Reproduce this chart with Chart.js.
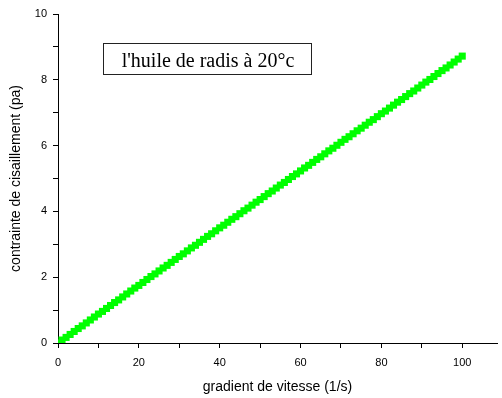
<!DOCTYPE html>
<html>
<head>
<meta charset="utf-8">
<script src="https://cdn.jsdelivr.net/npm/chart.js@4.4.1/dist/chart.umd.min.js"></script>
<style>
  html, body { margin: 0; padding: 0; background: #fff; }
  #wrap { width: 502px; height: 398px; }
</style>
</head>
<body>
<div id="wrap"><canvas id="chart" width="502" height="398"></canvas></div>
<script>
// gradient de vitesse (1/s)
const shearRate = [
  0, 1, 2, 3, 4, 5, 6, 7, 8, 9,
  10, 11, 12, 13, 14, 15, 16, 17, 18, 19,
  20, 21, 22, 23, 24, 25, 26, 27, 28, 29,
  30, 31, 32, 33, 34, 35, 36, 37, 38, 39,
  40, 41, 42, 43, 44, 45, 46, 47, 48, 49,
  50, 51, 52, 53, 54, 55, 56, 57, 58, 59,
  60, 61, 62, 63, 64, 65, 66, 67, 68, 69,
  70, 71, 72, 73, 74, 75, 76, 77, 78, 79,
  80, 81, 82, 83, 84, 85, 86, 87, 88, 89,
  90, 91, 92, 93, 94, 95, 96, 97, 98, 99,
  100
];
// contrainte de cisaillement (pa)
const shearStress = [
  0.00, 0.09, 0.17, 0.26, 0.35, 0.44, 0.52, 0.61, 0.70, 0.79,
  0.88, 0.96, 1.05, 1.14, 1.23, 1.31, 1.40, 1.49, 1.58, 1.67,
  1.75, 1.84, 1.93, 2.02, 2.10, 2.19, 2.28, 2.36, 2.45, 2.54,
  2.63, 2.71, 2.80, 2.89, 2.97, 3.06, 3.15, 3.24, 3.32, 3.41,
  3.50, 3.58, 3.67, 3.76, 3.84, 3.93, 4.02, 4.10, 4.19, 4.28,
  4.36, 4.45, 4.54, 4.62, 4.71, 4.80, 4.88, 4.97, 5.06, 5.14,
  5.23, 5.32, 5.40, 5.49, 5.58, 5.66, 5.75, 5.84, 5.92, 6.01,
  6.10, 6.19, 6.27, 6.36, 6.45, 6.53, 6.62, 6.71, 6.79, 6.88,
  6.97, 7.05, 7.14, 7.23, 7.32, 7.40, 7.49, 7.58, 7.66, 7.75,
  7.84, 7.93, 8.01, 8.10, 8.19, 8.28, 8.36, 8.45, 8.54, 8.63,
  8.72
];
const xLabels = [0, 20, 40, 60, 80, 100];
const yLabels = [0, 2, 4, 6, 8, 10];
const boxText = "l'huile de radis à 20°c";

const points = shearRate.map((x, i) => ({ x: x, y: shearStress[i] }));

// text box in the upper left of the plot
const labelBox = {
  id: 'labelBox',
  afterDraw(chart) {
    const ctx = chart.ctx;
    ctx.save();
    ctx.strokeStyle = '#222';
    ctx.lineWidth = 1;
    ctx.strokeRect(103.5, 43.5, 208, 31);
    ctx.fillStyle = '#000';
    ctx.font = '20px "Liberation Serif", "Times New Roman", serif';
    ctx.textAlign = 'center';
    ctx.textBaseline = 'alphabetic';
    ctx.fillText(boxText, 208, 66.5);
    ctx.restore();
  }
};

const tickFont = { family: 'Liberation Sans, Arial, sans-serif', size: 11 };
const titleFont = { family: 'Liberation Sans, Arial, sans-serif', size: 14 };

new Chart(document.getElementById('chart').getContext('2d'), {
  type: 'scatter',
  data: {
    datasets: [{
      data: points,
      pointStyle: 'rect',
      pointRadius: 5,
      pointHoverRadius: 5,
      pointBorderWidth: 0,
      backgroundColor: '#00ff00',
      borderColor: '#00ff00',
      showLine: false
    }]
  },
  options: {
    responsive: false,
    animation: false,
    layout: { padding: { top: 14, right: 0, left: 0, bottom: 0 } },
    plugins: {
      legend: { display: false },
      tooltip: { enabled: false }
    },
    scales: {
      x: {
        type: 'linear',
        min: 0,
        max: 108.6,
        afterFit: s => {
          s.height = 55;
          s.paddingLeft = 0;
          s.paddingRight = 0;
        },
        border: { display: true, color: '#000', width: 1 },
        grid: { drawOnChartArea: false, drawTicks: true, tickLength: 5, color: '#000' },
        ticks: {
          stepSize: 10,
          includeBounds: false,
          color: '#000',
          font: tickFont,
          padding: 8,
          maxRotation: 0,
          callback: v => xLabels.includes(v) ? String(v) : ''
        },
        title: {
          display: true,
          text: 'gradient de vitesse (1/s)',
          color: '#000',
          font: titleFont,
          padding: { top: 0, bottom: 2 }
        }
      },
      y: {
        type: 'linear',
        min: 0,
        max: 10,
        afterFit: s => { s.width = 58; },
        border: { display: true, color: '#000', width: 1 },
        grid: { drawOnChartArea: false, drawTicks: true, tickLength: 5, color: '#000' },
        ticks: {
          stepSize: 1,
          color: '#000',
          font: tickFont,
          padding: 6,
          callback: v => yLabels.includes(v) ? String(v) : ''
        },
        title: {
          display: true,
          text: 'contrainte de cisaillement (pa)',
          color: '#000',
          font: titleFont,
          padding: { top: 8, bottom: 0 }
        }
      }
    }
  },
  plugins: [labelBox]
});
</script>
</body>
</html>
